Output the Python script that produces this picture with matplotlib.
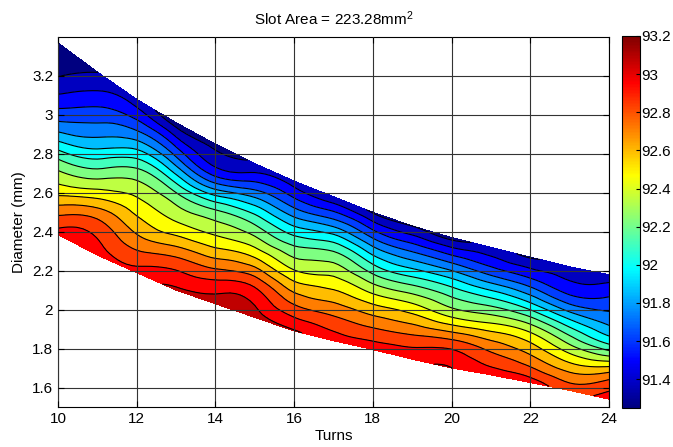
import numpy as np
import matplotlib
matplotlib.use("Agg")
import matplotlib.pyplot as plt
from matplotlib.ticker import FormatStrFormatter
from matplotlib.colors import Normalize, LinearSegmentedColormap
from matplotlib.cm import ScalarMappable
from matplotlib.tri import Triangulation, UniformTriRefiner

# number of turns (columns of the map)
turns = [10, 11, 12, 13, 14, 15, 16, 17, 18, 19, 20, 21, 22, 23, 24]
# upper / lower edge of the feasible diameter band (mm)
d_upper = [3.37, 3.22, 3.08, 2.96, 2.85, 2.75, 2.66, 2.58, 2.50, 2.43, 2.37, 2.32, 2.27, 2.22, 2.18]
d_lower = [2.385, 2.28, 2.19, 2.10, 2.03, 1.96, 1.89, 1.84, 1.795, 1.745, 1.70, 1.665, 1.625, 1.585, 1.54]
# position across the band (0 = lower edge, 1 = upper edge)
band_pos = [0.0, 0.2, 0.4, 0.6, 0.8, 1.0]
# efficiency (%) read at each band position, one row per band_pos
eff = [
    [93.00, 93.02, 93.00, 93.10, 93.14, 93.13, 93.09, 93.02, 93.03, 93.04, 93.08, 93.02, 93.02, 92.90, 93.02],
    [92.60, 92.83, 92.74, 92.83, 92.87, 92.95, 92.80, 92.80, 92.78, 92.81, 92.87, 92.81, 92.74, 92.63, 92.75],
    [92.21, 92.38, 92.51, 92.48, 92.51, 92.57, 92.48, 92.53, 92.48, 92.50, 92.45, 92.48, 92.47, 92.30, 92.20],
    [91.72, 91.94, 92.23, 92.19, 92.20, 92.23, 92.17, 92.26, 92.14, 92.14, 92.14, 92.11, 92.06, 91.93, 91.85],
    [91.40, 91.63, 91.78, 91.73, 91.61, 91.81, 91.78, 91.84, 91.76, 91.75, 91.75, 91.70, 91.67, 91.58, 91.64],
    [91.27, 91.37, 91.43, 91.31, 91.34, 91.40, 91.43, 91.40, 91.36, 91.37, 91.33, 91.41, 91.36, 91.43, 91.44],
]
cmin, cmax = 91.25, 93.2
n_bands = 16
cbar_ticks = [91.4, 91.6, 91.8, 92.0, 92.2, 92.4, 92.6, 92.8, 93.0, 93.2]

plt.rcParams["font.family"] = ["Liberation Sans", "DejaVu Sans"]
plt.rcParams["mathtext.fontset"] = "custom"
plt.rcParams["mathtext.rm"] = "Liberation Sans"
plt.rcParams["mathtext.it"] = "Liberation Sans"

# matlab flavoured jet (breakpoints at eighths)
mjet = LinearSegmentedColormap("mjet", {
    "red":   [(0, 0, 0), (0.375, 0, 0), (0.625, 1, 1), (0.875, 1, 1), (1, 0.5, 0.5)],
    "green": [(0, 0, 0), (0.125, 0, 0), (0.375, 1, 1), (0.625, 1, 1), (0.875, 0, 0), (1, 0, 0)],
    "blue":  [(0, 0.5, 0.5), (0.125, 1, 1), (0.375, 1, 1), (0.625, 0, 0), (1, 0, 0)],
}, N=256)

t = np.array(turns, dtype=float)
up = np.array(d_upper)
lo = np.array(d_lower)
s = np.array(band_pos)[:, None]
X = np.broadcast_to(t, (len(band_pos), len(turns)))
Y = lo[None, :] + s * (up - lo)[None, :]
Z = np.array(eff)

# triangulate the curvilinear grid, let matplotlib refine it smoothly
nr, nc = Z.shape
tris = []
for i in range(nr - 1):
    for j in range(nc - 1):
        a = i * nc + j
        tris.append([a, a + 1, a + nc + 1])
        tris.append([a, a + nc + 1, a + nc])
k = 5.0  # make cells roughly square on screen
tri = Triangulation(X.ravel(), Y.ravel() * k, tris)
tri_f, z_f = UniformTriRefiner(tri).refine_field(Z.ravel(), subdiv=3)
tri_f = Triangulation(tri_f.x, tri_f.y / k, tri_f.triangles)
z_f = np.clip(z_f, cmin + 1e-4, cmax - 1e-4)

levels = np.linspace(cmin, cmax, n_bands + 1)
norm = Normalize(cmin, cmax)
# each band takes the colour of its lower level
band_colors = [mjet(norm(v)) for v in levels[:-1]]

fig = plt.figure(figsize=(6.73, 4.47), dpi=100)
ax = fig.add_axes([0.0862, 0.0895, 0.8187, 0.8277])
cax = fig.add_axes([0.924, 0.0875, 0.027, 0.832])

ax.tricontourf(tri_f, z_f, levels=levels, colors=band_colors)
ax.tricontour(tri_f, z_f, levels=levels, colors="k", linewidths=0.8)

ax.set_xlim(10, 24)
ax.set_ylim(1.5, 3.4)
ax.set_xticks(range(10, 25, 2))
ax.set_yticks(np.arange(1.6, 3.21, 0.2))
ax.yaxis.set_major_formatter(FormatStrFormatter("%g"))
ax.grid(True, color="0.2", linewidth=0.8)
ax.set_axisbelow(False)
ax.tick_params(direction="in", top=True, right=True, labelsize=11, length=4)
for sp in ax.spines.values():
    sp.set_linewidth(0.8)

ax.set_title("Slot Area = 223.28mm$^2$", fontsize=11, pad=9)
ax.set_xlabel("Turns", fontsize=11, labelpad=2)
ax.set_ylabel("Diameter (mm)", fontsize=11, labelpad=4)

sm = ScalarMappable(norm=norm, cmap=mjet)
cb = fig.colorbar(sm, cax=cax, ticks=cbar_ticks)
cb.ax.yaxis.set_major_formatter(FormatStrFormatter("%g"))
cb.ax.tick_params(direction="in", labelsize=11, length=3, pad=1)
cb.outline.set_linewidth(0.8)

fig.savefig("out.png", dpi=100)
